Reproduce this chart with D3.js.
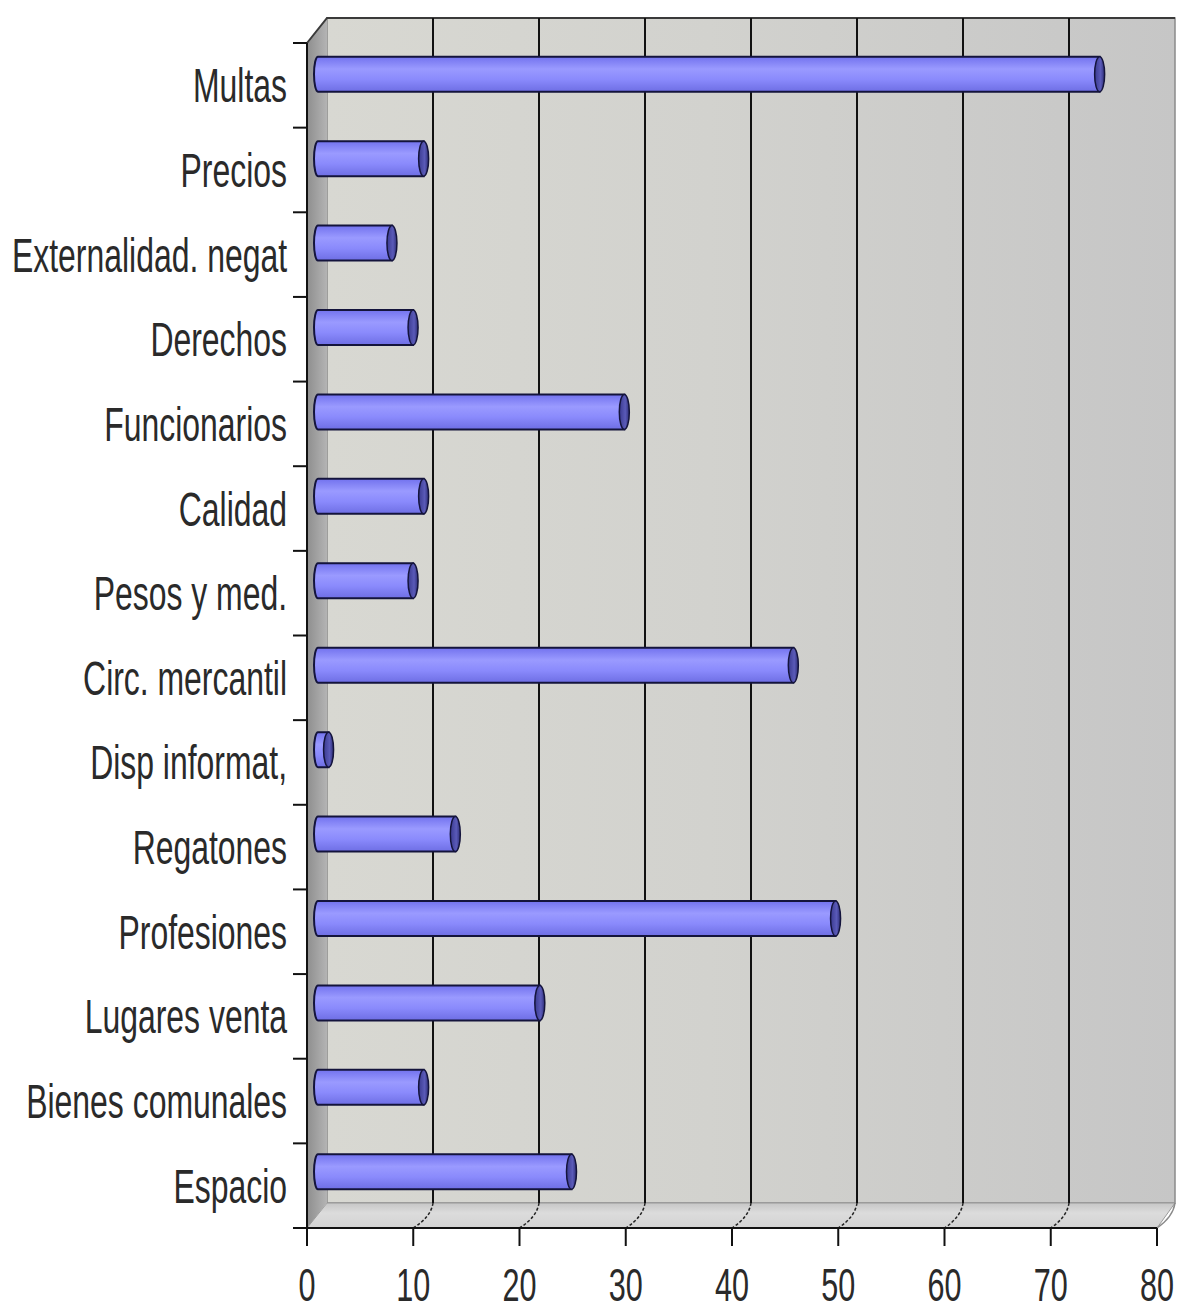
<!DOCTYPE html>
<html>
<head>
<meta charset="utf-8">
<script src="https://cdnjs.cloudflare.com/ajax/libs/d3/7.8.5/d3.min.js"></script>
<style>
  html, body { margin: 0; padding: 0; background: #ffffff; }
  svg { display: block; }
  text { font-family: "Liberation Sans", Arial, "DejaVu Sans", sans-serif; fill: #2a2a2a; }
</style>
</head>
<body>
<script>
// Categories (top to bottom) and their counts
const categories = [
  "Multas", "Precios", "Externalidad. negat", "Derechos", "Funcionarios",
  "Calidad", "Pesos y med.", "Circ. mercantil", "Disp informat,", "Regatones",
  "Profesiones", "Lugares venta", "Bienes comunales", "Espacio"
];
const values = [74, 10, 7, 9, 29, 10, 9, 45, 1, 13, 49, 21, 10, 24];
const xTicks = [0, 10, 20, 30, 40, 50, 60, 70, 80];

const W = 1178, H = 1312;
const svg = d3.select("body").append("svg").attr("width", W).attr("height", H);
const defs = svg.append("defs");

// 3D box: front plane, back plane, depth offset
const front = { x0: 307, x1: 1157, yTop: 43, yBot: 1228 };
const depth = { dx: 20, dy: -25 };

const xFront = d3.scaleLinear().domain([0, 80]).range([front.x0, front.x1]);
const xBack = d3.scaleLinear().domain([0, 80]).range([front.x0 + depth.dx, front.x1 + depth.dx - 2]);
const xBar = d3.scaleLinear().domain([0, 80]).range([318, 1163]);

const yFront = d3.scaleBand().domain(categories).range([front.yTop, front.yBot]).padding(0);
const yBar = d3.scaleBand().domain(categories).range([32, 1214]).padding(0);

// ---- gradients ----
const wallGrad = defs.append("linearGradient").attr("id", "wallGrad")
  .attr("x1", "0").attr("x2", "1").attr("y1", "0").attr("y2", "0");
wallGrad.append("stop").attr("offset", "0%").attr("stop-color", "#d8d8d2");
wallGrad.append("stop").attr("offset", "45%").attr("stop-color", "#d2d2ce");
wallGrad.append("stop").attr("offset", "100%").attr("stop-color", "#c6c6c6");

const sideGrad = defs.append("linearGradient").attr("id", "sideGrad")
  .attr("x1", "0").attr("x2", "1").attr("y1", "0").attr("y2", "0");
sideGrad.append("stop").attr("offset", "0%").attr("stop-color", "#8e8e8e");
sideGrad.append("stop").attr("offset", "100%").attr("stop-color", "#b4b4b4");

const floorGrad = defs.append("linearGradient").attr("id", "floorGrad")
  .attr("x1", "0").attr("x2", "0").attr("y1", "0").attr("y2", "1");
floorGrad.append("stop").attr("offset", "0%").attr("stop-color", "#c6c6c6");
floorGrad.append("stop").attr("offset", "40%").attr("stop-color", "#dcdcdc");
floorGrad.append("stop").attr("offset", "100%").attr("stop-color", "#d2d2d2");

const barGrad = defs.append("linearGradient").attr("id", "barGrad")
  .attr("x1", "0").attr("x2", "0").attr("y1", "0").attr("y2", "1");
barGrad.append("stop").attr("offset", "0%").attr("stop-color", "#7272ee");
barGrad.append("stop").attr("offset", "35%").attr("stop-color", "#9a9aff");
barGrad.append("stop").attr("offset", "65%").attr("stop-color", "#8a8afc");
barGrad.append("stop").attr("offset", "100%").attr("stop-color", "#6e6ee4");

const capGrad = defs.append("linearGradient").attr("id", "capGrad")
  .attr("x1", "0").attr("x2", "1").attr("y1", "0").attr("y2", "0");
capGrad.append("stop").attr("offset", "0%").attr("stop-color", "#3a3a90");
capGrad.append("stop").attr("offset", "60%").attr("stop-color", "#5a5ab8");
capGrad.append("stop").attr("offset", "100%").attr("stop-color", "#2e2e78");

// ---- walls ----
const bx0 = xBack(0), bx1 = xBack(80);
const byTop = front.yTop + depth.dy, byBot = front.yBot + depth.dy;

// back wall
svg.append("rect")
  .attr("x", bx0).attr("y", byTop)
  .attr("width", bx1 - bx0).attr("height", byBot - byTop)
  .attr("fill", "url(#wallGrad)")
  .attr("stroke", "#8a8a8a").attr("stroke-width", 1.5);

// floor
svg.append("path")
  .attr("d", `M${front.x0},${front.yBot} L${bx0},${byBot} L${bx1},${byBot} L${front.x1},${front.yBot} Z`)
  .attr("fill", "url(#floorGrad)")
  .attr("stroke", "#9a9a9a").attr("stroke-width", 1);

// left side wall
svg.append("path")
  .attr("d", `M${front.x0},${front.yTop} L${bx0},${byTop} L${bx0},${byBot} L${front.x0},${front.yBot} Z`)
  .attr("fill", "url(#sideGrad)");

// top edge of side wall and back wall
svg.append("path")
  .attr("d", `M${front.x0},${front.yTop} L${bx0},${byTop} L${bx1},${byTop}`)
  .attr("fill", "none").attr("stroke", "#3a3a3a").attr("stroke-width", 2);

// ---- gridlines (back wall + floor extension) ----
const gridVals = xTicks.filter(v => v > 0 && v < 80);
svg.append("g").selectAll("line").data(gridVals).join("line")
  .attr("x1", d => xBack(d)).attr("x2", d => xBack(d))
  .attr("y1", byTop).attr("y2", byBot)
  .attr("stroke", "#111").attr("stroke-width", 2);

svg.append("g").selectAll("path").data(xTicks.filter(v => v > 0)).join("path")
  .attr("d", d => {
    const xb = d === 80 ? bx1 : xBack(d), xf = xFront(d);
    return `M${xb},${byBot} Q${xb - 2},${byBot + 14} ${xf},${front.yBot}`;
  })
  .attr("fill", "none")
  .attr("stroke", d => d === 80 ? "#8a8a8a" : "#222")
  .attr("stroke-width", 1.5)
  .attr("stroke-dasharray", d => d === 80 ? null : "3,2");

// ---- bars (cylinders) ----
const barH = 35, rx = 5;
const bars = svg.append("g").selectAll("g").data(categories).join("g");

bars.each(function (c, i) {
  const g = d3.select(this);
  const cy = yBar(c) + yBar.bandwidth() / 2;
  const x0 = xBar(0), x1 = xBar(values[i]);
  const top = cy - barH / 2, bot = cy + barH / 2;
  // body with left curved end
  g.append("path")
    .attr("d", `M${x1},${top} L${x0},${top} A${rx - 1},${barH / 2} 0 0 0 ${x0},${bot} L${x1},${bot} Z`)
    .attr("fill", "url(#barGrad)")
    .attr("stroke", "#14143c").attr("stroke-width", 2);
  // right end cap
  g.append("ellipse")
    .attr("cx", x1).attr("cy", cy).attr("rx", rx).attr("ry", barH / 2)
    .attr("fill", "url(#capGrad)")
    .attr("stroke", "#14143c").attr("stroke-width", 1.5);
});

// ---- axes ----
// category axis (front left edge)
svg.append("line")
  .attr("x1", front.x0).attr("x2", front.x0)
  .attr("y1", front.yTop).attr("y2", front.yBot + 18)
  .attr("stroke", "#111").attr("stroke-width", 2);

const yTickPos = d3.range(categories.length + 1).map(k => front.yTop + k * yFront.step());
svg.append("g").selectAll("line").data(yTickPos).join("line")
  .attr("x1", front.x0 - 14).attr("x2", front.x0)
  .attr("y1", d => d).attr("y2", d => d)
  .attr("stroke", "#111").attr("stroke-width", 2);

svg.append("g").selectAll("text").data(categories).join("text")
  .attr("transform", c => `translate(287,${yFront(c) + yFront.bandwidth() / 2 + 17}) scale(0.665,1)`)
  .attr("text-anchor", "end")
  .attr("font-size", 48)
  .text(c => c);

// value axis (front floor edge)
svg.append("line")
  .attr("x1", front.x0 - 14).attr("x2", front.x1)
  .attr("y1", front.yBot).attr("y2", front.yBot)
  .attr("stroke", "#111").attr("stroke-width", 2);

svg.append("g").selectAll("line").data(xTicks).join("line")
  .attr("x1", d => xFront(d)).attr("x2", d => xFront(d))
  .attr("y1", front.yBot).attr("y2", front.yBot + 18)
  .attr("stroke", "#111").attr("stroke-width", 2);

svg.append("g").selectAll("text").data(xTicks).join("text")
  .attr("transform", d => `translate(${xFront(d)},1301) scale(0.665,1)`)
  .attr("text-anchor", "middle")
  .attr("font-size", 46)
  .text(d => d);
</script>
</body>
</html>
